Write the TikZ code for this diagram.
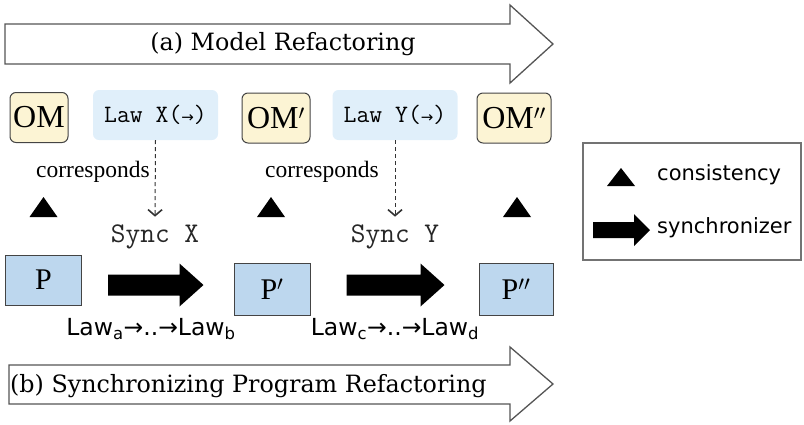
\documentclass[tikz,border=0pt]{standalone}
\usepackage{fontspec}
\usetikzlibrary{arrows.meta,calc}
\newfontfamily\bannerfont{DejaVu Serif}
\newfontfamily\boxfont{Liberation Serif}
\newfontfamily\labelfont{DejaVu Sans}
\definecolor{omfill}{HTML}{FCF4D4}
\definecolor{lawfill}{HTML}{E0EFFA}
\definecolor{pfill}{HTML}{BDD7EE}
\definecolor{edge}{HTML}{444444}
\definecolor{bannerline}{HTML}{555555}

% thick black synchronizer arrow between two coordinates on one horizontal line
\newcommand\fatarrow[5]{% start, end, body half height, head half height, head length
  \fill ($(#1)+(0,#3)$) -- ($(#2)+(-#5,#3)$) -- ($(#2)+(-#5,#4)$) -- (#2)
     -- ($(#2)+(-#5,-#4)$) -- ($(#2)+(-#5,-#3)$) -- ($(#1)+(0,-#3)$) -- cycle;}
% filled consistency triangle centred on a coordinate
\newcommand\constri[3]{% centre, half width, half height
  \fill ($(#1)+(-#2,-#3)$) -- ($(#1)+(#2,-#3)$) -- ($(#1)+(0,#3)$) -- cycle;}
% small arrow inside a law name
\newcommand\lawarrow{{\labelfont\fontsize{15}{16}\selectfont→}}

\tikzset{
  x=1pt, y=1pt,
  banner/.style={draw=bannerline, line width=1.3pt, fill=white, line join=miter},
  bannertext/.style={font=\bannerfont\fontsize{23.8}{26}\selectfont, inner sep=0pt},
  ombox/.style={draw=edge, line width=1pt, fill=omfill, rounded corners=6pt,
    font=\boxfont\fontsize{32}{34}\selectfont, inner sep=0pt, minimum height=50pt},
  lawbox/.style={fill=lawfill, rounded corners=6pt, minimum width=125pt,
    minimum height=50pt, inner sep=0pt, font=\ttfamily\fontsize{25}{28}\selectfont},
  pbox/.style={draw=edge, line width=1pt, fill=pfill, inner sep=0pt,
    font=\boxfont\fontsize{30}{32}\selectfont},
  synctext/.style={font=\ttfamily\fontsize{28.5}{30}\selectfont, text=black!85, inner sep=0pt},
  corrtext/.style={font=\boxfont\fontsize{23.5}{26}\selectfont, inner sep=0pt},
  lawlabel/.style={font=\labelfont\fontsize{23.5}{26}\selectfont, inner sep=0pt},
  legendtext/.style={font=\labelfont\fontsize{21}{24}\selectfont, inner sep=0pt, anchor=west},
  derives/.style={draw=black!80, line width=1pt, dashed, dash pattern=on 4pt off 3pt,
    -{Straight Barb[length=6pt,width=14pt,line width=1.6pt]}},
}

\begin{document}
\begin{tikzpicture}
\useasboundingbox (0,0) rectangle (804,-424);

% ---- banner arrows
\draw[banner] (5,-24) -- (510,-24) -- (510,-5) -- (553,-44) -- (510,-83)
  -- (510,-64) -- (5,-64) -- cycle;
\node[bannertext] (ta) at (283,-44) {(a) Model Refactoring};

\draw[banner] (9,-365) -- (510,-365) -- (510,-347) -- (553,-384) -- (510,-421)
  -- (510,-404) -- (9,-404) -- cycle;
\node[bannertext, anchor=west] (tb) at (10,-386) {(b) Synchronizing Program Refactoring};

% ---- object models and refactoring laws
\node[ombox, minimum width=58pt] (om0) at (39,-117.5) {OM};
\node[ombox, minimum width=68pt] (om1) at (276,-118) {OM$'$};
\node[ombox, minimum width=74pt] (om2) at (514,-118) {OM$''$};

\node[lawbox] (lawx) at (155.5,-115) {Law X(\lawarrow)};
\node[lawbox] (lawy) at (395,-115) {Law Y(\lawarrow)};

\node[corrtext] (c1) at (93,-172) {corresponds};
\node[corrtext] (c2) at (322,-172) {corresponds};

% ---- consistency triangles
\coordinate (k0) at (43.5,-207);
\coordinate (k1) at (271,-207);
\coordinate (k2) at (517,-207);
\constri{k0}{14}{10}
\constri{k1}{14}{10}
\constri{k2}{14}{10}

% ---- synchronizers
\node[synctext] (sx) at (155,-237) {Sync X};
\node[synctext] (sy) at (395,-237) {Sync Y};
\draw[derives] (lawx.south) -- ($(sx.north)+(0,8)$);
\draw[derives] (lawy.south) -- ($(sy.north)+(0,8)$);

% ---- programs
\node[pbox, minimum width=76pt, minimum height=50pt] (p0) at (43.5,-280) {P};
\node[pbox, minimum width=76pt, minimum height=52pt] (p1) at (272,-289) {P$'$};
\node[pbox, minimum width=74pt, minimum height=52pt] (p2) at (516,-289) {P$''$};

\coordinate (a0s) at ($(p0.east |- 0,-285)+(26,0)$);
\coordinate (a0e) at ($(p1.west |- 0,-285)+(-30,0)$);
\coordinate (a1s) at ($(p1.east |- 0,-285)+(36,0)$);
\coordinate (a1e) at ($(p2.west |- 0,-285)+(-34,0)$);
\fatarrow{a0s}{a0e}{10.5}{21.5}{24}
\fatarrow{a1s}{a1e}{10.5}{21.5}{24}

\node[lawlabel] (l1) at (151,-329) {Law\textsubscript{a}→..→Law\textsubscript{b}};
\node[lawlabel] (l2) at (395,-329) {Law\textsubscript{c}→..→Law\textsubscript{d}};

% ---- legend
\draw[draw=black!55, line width=1.3pt] (583,-143) rectangle (801,-260);
\coordinate (lk) at (621,-177);
\constri{lk}{14}{9}
\node[legendtext] (lc) at (657,-175) {consistency};
\coordinate (las) at (593,-230);
\coordinate (lae) at (650,-230);
\fatarrow{las}{lae}{8}{16}{16}
\node[legendtext] (ls) at (657,-228) {synchronizer};
\end{tikzpicture}
\end{document}
